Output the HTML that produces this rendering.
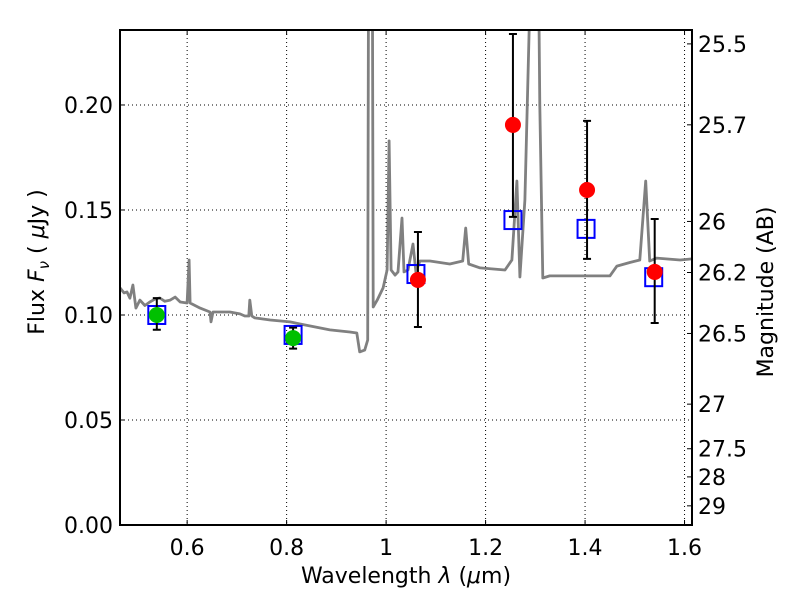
<!DOCTYPE html>
<html><head><meta charset="utf-8"><style>
body{margin:0;background:#fff}
svg text{font-family:"DejaVu Sans","Liberation Sans",sans-serif;fill:#000}
</style></head><body>
<svg id="c" width="800" height="600" xmlns="http://www.w3.org/2000/svg"></svg>
<script>
const specWave=[0.465,0.473,0.479,0.485,0.491,0.497,0.505,0.515,0.525,0.535,0.545,0.555,0.566,0.576,0.586,0.600,0.604,0.606,0.626,0.646,0.648,0.652,0.686,0.706,0.716,0.724,0.726,0.730,0.736,0.767,0.807,0.827,0.887,0.927,0.941,0.947,0.957,0.963,0.965,0.972,0.974,0.982,0.994,1.002,1.006,1.010,1.018,1.024,1.032,1.036,1.044,1.054,1.060,1.068,1.088,1.128,1.154,1.160,1.166,1.189,1.239,1.253,1.263,1.269,1.279,1.289,1.293,1.305,1.309,1.315,1.329,1.390,1.450,1.464,1.490,1.510,1.522,1.530,1.544,1.591,1.615];
const specFlux=[0.1129,0.1105,0.111,0.108,0.1143,0.1033,0.1071,0.1045,0.1062,0.1075,0.1081,0.1065,0.1071,0.1085,0.1062,0.1057,0.1262,0.1057,0.1033,0.1014,0.0967,0.1014,0.1014,0.1005,0.0995,0.0995,0.1071,0.0995,0.0986,0.0976,0.0967,0.0957,0.0929,0.0919,0.0914,0.0824,0.0833,0.0881,0.30,0.30,0.1038,0.1071,0.1129,0.1214,0.1829,0.1214,0.119,0.1205,0.1462,0.1205,0.1214,0.1338,0.1205,0.1257,0.1257,0.1243,0.1257,0.1414,0.1243,0.1224,0.1214,0.1262,0.1638,0.1181,0.1548,0.25,0.30,0.30,0.20,0.1176,0.1186,0.1186,0.1186,0.1233,0.1250,0.1262,0.1638,0.1257,0.1271,0.1262,0.1267];
const obsWave=[0.539,0.813,1.064,1.255,1.404,1.540];
const obsFlux=[0.100,0.089,0.1167,0.1905,0.1595,0.1205];
const obsLo=[0.093,0.084,0.0943,0.1467,0.1267,0.0962];
const obsHi=[0.108,0.094,0.1395,0.2338,0.1924,0.1457];
const obsColor=['#00c000','#00c000','#ff0000','#ff0000','#ff0000','#ff0000'];
const modelWave=[0.539,0.813,1.060,1.255,1.402,1.538];
const modelFlux=[0.100,0.0905,0.1195,0.1452,0.141,0.118];
const xTicks=[0.6,0.8,1.0,1.2,1.4,1.6];
const xTickLabels=['0.6','0.8','1','1.2','1.4','1.6'];
const yTicks=[0,0.05,0.10,0.15,0.20];
const yTickLabels=['0.00','0.05','0.10','0.15','0.20'];
const magTicks=[25.5,25.7,26,26.2,26.5,27,27.5,28,29];

const L=120,R=692,T=30,B=525,X0=0.465,X1=1.615,Y0=0,Y1=0.2357;
const sx=v=>L+(v-X0)/(X1-X0)*(R-L);
const sy=v=>B-(v-Y0)/(Y1-Y0)*(B-T);
const svg=document.getElementById('c');
const NS='http://www.w3.org/2000/svg';
function mk(t,a,p){const e=document.createElementNS(NS,t);for(const k in a)e.setAttribute(k,a[k]);(p||svg).appendChild(e);return e;}
const defs=mk('defs',{});const cp=mk('clipPath',{id:'cl'},defs);mk('rect',{x:L,y:T,width:R-L,height:B-T},cp);
xTicks.forEach((v,i)=>{
 let g=mk('line',{x1:sx(v),x2:sx(v),y1:T,y2:B,stroke:'#000','stroke-width':1,'stroke-dasharray':'1,3'});
 
 mk('line',{x1:sx(v),x2:sx(v),y1:B,y2:B-5,stroke:'#000'});mk('line',{x1:sx(v),x2:sx(v),y1:T,y2:T+5,stroke:'#000'});
 let t=mk('text',{x:sx(v),y:B+30,'font-size':22,'text-anchor':'middle'});t.textContent=xTickLabels[i];
 
});
yTicks.forEach((v,i)=>{
 if(v>0){let g=mk('line',{x1:L,x2:R,y1:sy(v),y2:sy(v),stroke:'#000','stroke-width':1,'stroke-dasharray':'1,3'});
 }
 mk('line',{x1:L,x2:L+5,y1:sy(v),y2:sy(v),stroke:'#000'});
 let t=mk('text',{x:L-7,y:sy(v)+8,'font-size':22,'text-anchor':'end'});t.textContent=yTickLabels[i];
 
});
magTicks.forEach(m=>{
 const f=Math.pow(10,(23.9-m)/2.5);const y=sy(f);
 mk('line',{x1:R,x2:R-5,y1:y,y2:y,stroke:'#000'});
 let t=mk('text',{x:R+6,y:y+8,'font-size':22});t.textContent=String(m);
 
});
let d=specWave.map((w,i)=>(i?'L':'M')+sx(w).toFixed(1)+','+sy(specFlux[i]).toFixed(1)).join('');
let sp=mk('path',{d:d,fill:'none',stroke:'#808080','stroke-width':2.8,'clip-path':'url(#cl)','stroke-linejoin':'round'});

modelWave.forEach((w,i)=>{
 let r=mk('rect',{x:sx(w)-8.5,y:sy(modelFlux[i])-9,width:17,height:18,fill:'none',stroke:'#0000ff','stroke-width':2});
 
});
obsWave.forEach((w,i)=>{
 const x=sx(w);
 let e=mk('path',{d:`M${x},${sy(obsLo[i])}L${x},${sy(obsHi[i])}M${x-4},${sy(obsLo[i])}L${x+4},${sy(obsLo[i])}M${x-4},${sy(obsHi[i])}L${x+4},${sy(obsHi[i])}`,stroke:'#000','stroke-width':2,fill:'none'});
 
 let c=mk('circle',{cx:x,cy:sy(obsFlux[i]),r:8,fill:obsColor[i]});
 
});
let fr=mk('rect',{x:L,y:T,width:R-L,height:B-T,fill:'none',stroke:'#000','stroke-width':2});

let xl=mk('text',{x:406,y:583,'font-size':22,'text-anchor':'middle'});xl.innerHTML='Wavelength  <tspan font-style="italic">λ</tspan> (<tspan font-style="italic">μ</tspan>m)';

let yl=mk('text',{x:0,y:0,'font-size':22,'text-anchor':'middle',transform:'translate(44,262) rotate(-90)'});yl.innerHTML='Flux  <tspan font-style="italic">F</tspan><tspan font-style="italic" font-size="15" dy="5">ν</tspan><tspan dy="-5">  (  </tspan><tspan font-style="italic">μ</tspan>Jy )';

let ml=mk('text',{x:0,y:0,'font-size':22,'text-anchor':'middle',transform:'translate(773,292) rotate(-90)'});ml.textContent='Magnitude (AB)';

</script>
</body></html>
